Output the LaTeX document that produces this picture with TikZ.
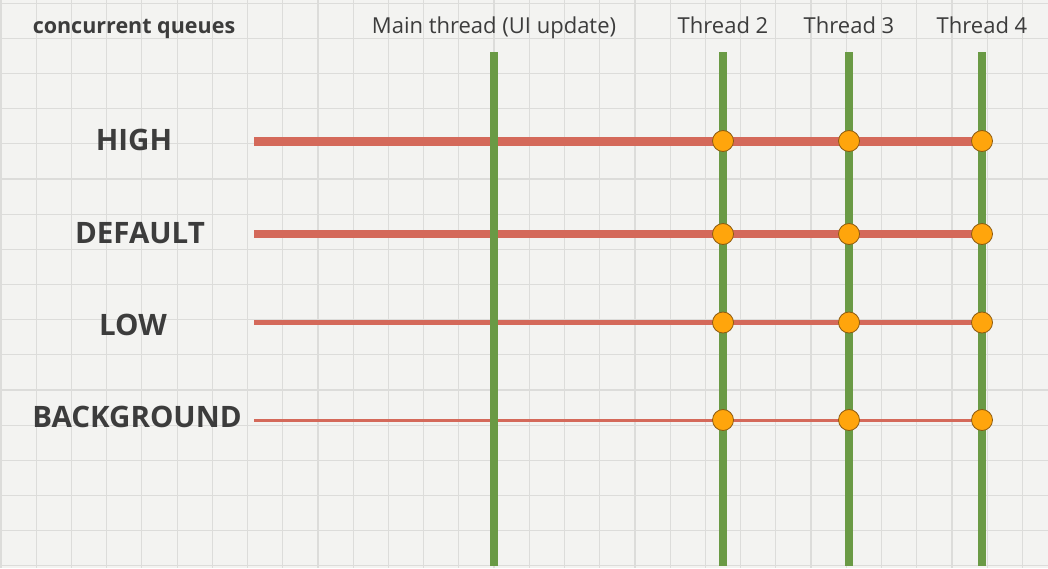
\documentclass[tikz,border=0pt]{standalone}
\usepackage{fontspec}
\setmainfont{Open Sans}
\usetikzlibrary{positioning,calc}

\definecolor{paper}{HTML}{F3F3F1}
\definecolor{gridgray}{HTML}{DCDCDA}
\definecolor{threadgreen}{HTML}{6A9A45}
\definecolor{queuered}{HTML}{D4695A}
\definecolor{joborange}{HTML}{FFA50C}
\definecolor{jobrim}{HTML}{8C5A10}
\definecolor{ink}{HTML}{3C3C3C}

\begin{document}
\begin{tikzpicture}[x=1pt,y=-1pt,
    thread/.style={threadgreen, line width=8.5pt},
    queue/.style={queuered},
    qlabel/.style={ink, anchor=base, font=\fontsize{29.5}{30}\selectfont\bfseries},
    tlabel/.style={ink, anchor=base, font=\fontsize{22}{22}\selectfont},
    job/.style={circle, fill=joborange, draw=jobrim, line width=0.8pt,
                minimum size=21pt, inner sep=0pt}]

    % paper and grid
    \fill[paper] (0,0) rectangle (1048,568);
    \useasboundingbox (0,0) rectangle (1048,568);
    \foreach \i in {0,...,29}
        \draw[gridgray, line width=1.2pt] ({1+35.22*\i},0) -- ({1+35.22*\i},568);
    \foreach \j in {0,...,16}
        \draw[gridgray, line width=1.2pt] (0,{3.1+35.17*\j}) -- (1048,{3.1+35.17*\j});

    % column titles
    \node[tlabel, font=\fontsize{21.5}{21}\selectfont\bfseries] (cq) at (134,33) {concurrent queues};
    \node[tlabel] (main) at (494,33) {Main thread (UI update)};
    \node[tlabel] (t2) at (723,33) {Thread 2};
    \node[tlabel] (t3) at (849,33) {Thread 3};
    \node[tlabel] (t4) at (982,33) {Thread 4};

    % queue names
    \node[qlabel] (high) at (134,150) {HIGH};
    \node[qlabel] (default) at (140,243) {DEFAULT};
    \node[qlabel] (low) at (133,335) {LOW};
    \node[qlabel] (bg) at (137,427) {BACKGROUND};

    % ends of the lines
    \coordinate (hs) at (254,141);
    \coordinate (ds) at (254,234);
    \coordinate (ls) at (254,322.5);
    \coordinate (bs) at (254,420);
    \foreach \n/\x in {main/494, t2/723, t3/849, t4/982} {
        \coordinate (\n-top) at (\x,52);
        \coordinate (\n-bot) at (\x,566);
        \coordinate (\n-h) at (\x,141);
        \coordinate (\n-d) at (\x,234);
        \coordinate (\n-l) at (\x,322.5);
        \coordinate (\n-b) at (\x,420);
    }

    % queues
    \draw[queue, line width=9pt] (hs) -- (t4-h);
    \draw[queue, line width=7.5pt] (ds) -- (t4-d);
    \draw[queue, line width=5.5pt] (ls) -- (t4-l);
    \draw[queue, line width=3pt] (bs) -- (t4-b);

    % threads
    \draw[thread] (main-top) -- (main-bot);
    \draw[thread] (t2-top) -- (t2-bot);
    \draw[thread] (t3-top) -- (t3-bot);
    \draw[thread] (t4-top) -- (t4-bot);

    % work items
    \foreach \n in {t2, t3, t4}
        \foreach \q in {h, d, l, b}
            \node[job] (\n-\q-job) at (\n-\q) {};
\end{tikzpicture}
\end{document}
